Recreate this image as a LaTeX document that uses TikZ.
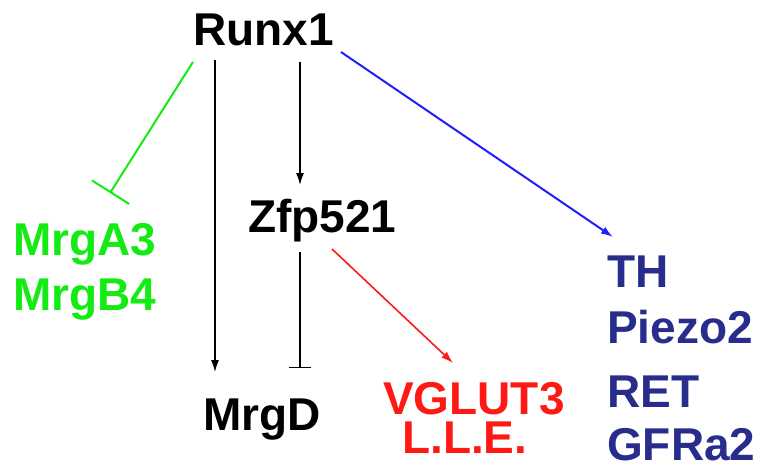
\documentclass[tikz,border=0pt]{standalone}
\usepackage{fontspec}
\setmainfont{Liberation Sans}
\usetikzlibrary{arrows.meta,calc}
\definecolor{cgreen}{RGB}{20,235,20}
\definecolor{cred}{RGB}{255,25,20}
\definecolor{cnavy}{RGB}{40,45,140}
\definecolor{cblue}{RGB}{30,30,255}
\begin{document}
\begin{tikzpicture}[x=1pt,y=-1pt,
  lbl/.style={anchor=base west,inner sep=0pt,font=\fontsize{46}{50}\selectfont\bfseries},
  act/.style={-{Latex[length=12pt,width=8pt]}},
  inh/.style={-{Bar[width=#1]}}]
\useasboundingbox (0,0) rectangle (764,467);
\node[lbl] (runx) at (193,45) {Runx1};
\node[lbl] (zfp) at (248,232) {Zfp521};
\node[lbl] (mrgd) at (203,430) {MrgD};
\node[lbl,text=cgreen] (mrga) at (13,255) {MrgA3};
\node[lbl,text=cgreen] (mrgb) at (13,310) {MrgB4};
\node[lbl,text=cred] (vglut) at (383,414) {VGLUT3};
\node[lbl,text=cred] (lle) at (402,453) {L.L.E.};
\node[lbl,text=cnavy] (th) at (607,287) {TH};
\node[lbl,text=cnavy] (piezo) at (607,343) {Piezo2};
\node[lbl,text=cnavy] (ret) at (607,407) {RET};
\node[lbl,text=cnavy] (gfra) at (607,460) {GFRa2};
\draw[cgreen,line width=2pt,inh=44pt] ($(runx.base west)+(0,17)$) -- ($(mrga.base west)+(97,-62)$);
\draw[black,line width=1.5pt,act] ($(runx.base west)+(22,15)$) -- ($(mrgd.base west)+(12,-58)$);
\draw[black,line width=1.5pt,act] ($(runx.base west)+(107,17)$) -- ($(zfp.base west)+(52,-47)$);
\draw[black,line width=1.5pt,inh=22pt] ($(zfp.base west)+(52,20)$) -- ($(mrgd.base west)+(97,-62)$);
\draw[cred,line width=1.6pt,act] ($(zfp.base west)+(84,17)$) -- ($(vglut.base west)+(70,-51)$);
\draw[cblue,line width=2pt,act] ($(runx.base west)+(148,7)$) -- ($(th.base west)+(6,-50)$);
\end{tikzpicture}
\end{document}
